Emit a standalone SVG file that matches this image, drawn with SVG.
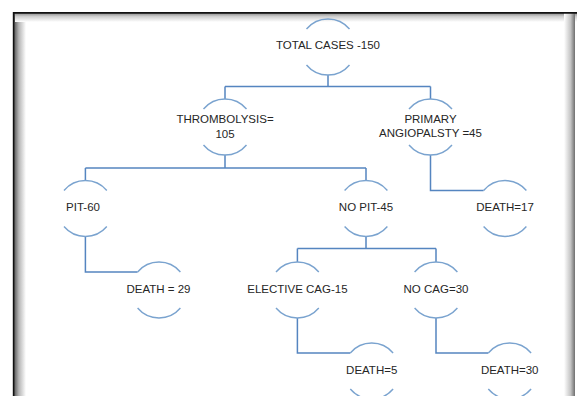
<svg xmlns="http://www.w3.org/2000/svg" width="577" height="396" viewBox="0 0 577 396">
<defs>
<linearGradient id="gl" x1="0" y1="0" x2="1" y2="0"><stop offset="0" stop-color="#6a6a6a"/><stop offset="0.35" stop-color="#b5b5b5"/><stop offset="1" stop-color="#ffffff"/></linearGradient>
<linearGradient id="gt" x1="0" y1="0" x2="0" y2="1"><stop offset="0" stop-color="#8a8a8a"/><stop offset="0.4" stop-color="#cfcfcf"/><stop offset="1" stop-color="#ffffff"/></linearGradient>
<linearGradient id="gr" x1="0" y1="0" x2="1" y2="0"><stop offset="0" stop-color="#ffffff"/><stop offset="0.6" stop-color="#c4c4c4"/><stop offset="1" stop-color="#6f6f6f"/></linearGradient>
</defs>
<style>
.arc{fill:none;stroke:#7aa3cf;stroke-width:1.4}
.con{fill:none;stroke:#5585c0;stroke-width:1.5}
text{font-family:"Liberation Sans",Arial,sans-serif;font-size:11.5px;fill:#262626;text-anchor:middle;dominant-baseline:central}
</style>
<rect width="577" height="396" fill="#ffffff"/>
<g id="frame">
<rect x="15" y="13" width="11" height="383" fill="url(#gl)"/>
<rect x="15" y="13" width="562" height="9" fill="url(#gt)"/>
<rect x="564" y="13" width="11" height="383" fill="url(#gr)"/>
<line x1="13.8" y1="12" x2="13.8" y2="396" stroke="#111" stroke-width="2"/>
<line x1="13" y1="12.8" x2="577" y2="12.8" stroke="#111" stroke-width="1.8"/>
</g>
<g id="connectors">
<path class="con" d="M328 75V86.5M225 86.5H430.5M225 86.5V99M430.5 86.5V99"/>
<path class="con" d="M225 155V168M85.4 168H366M85.4 168V180.5M366 168V180.5"/>
<path class="con" d="M430.5 155V190.5H483.6"/>
<path class="con" d="M85.4 236.5V272H137.6"/>
<path class="con" d="M366 236.5V248.5M297.4 248.5H436M297.4 248.5V262M436 248.5V262"/>
<path class="con" d="M297.4 318V353H350.3"/>
<path class="con" d="M436 318V353H488.3"/>
</g>
<g id="n-total">
<path class="arc" d="M306.5 29A28 28 0 0 1 349.5 29M306.5 65A28 28 0 0 0 349.5 65"/>
<text x="328" y="45">TOTAL CASES -150</text>
</g>
<g id="n-thrombolysis">
<path class="arc" d="M203.5 109A28 28 0 0 1 246.5 109M203.5 145A28 28 0 0 0 246.5 145"/>
<text x="225" y="119">THROMBOLYSIS=</text>
<text x="225" y="134">105</text>
</g>
<g id="n-primary">
<path class="arc" d="M409 109A28 28 0 0 1 452 109M409 145A28 28 0 0 0 452 145"/>
<text x="430.5" y="119">PRIMARY</text>
<text x="430.5" y="133">ANGIOPALSTY =45</text>
</g>
<g id="n-pit">
<path class="arc" d="M64 190.5A28 28 0 0 1 106.8 190.5M64 226.5A28 28 0 0 0 106.8 226.5"/>
<text x="83" y="207">PIT-60</text>
</g>
<g id="n-nopit">
<path class="arc" d="M344.6 190.5A28 28 0 0 1 387.4 190.5M344.6 226.5A28 28 0 0 0 387.4 226.5"/>
<text x="366" y="207">NO PIT-45</text>
</g>
<g id="n-death17">
<path class="arc" d="M483.6 190.5A28 28 0 0 1 526.4 190.5M483.6 226.5A28 28 0 0 0 526.4 226.5"/>
<text x="505" y="207">DEATH=17</text>
</g>
<g id="n-death29">
<path class="arc" d="M137.6 272A28 28 0 0 1 180.4 272M137.6 308A28 28 0 0 0 180.4 308"/>
<text x="158.5" y="289">DEATH = 29</text>
</g>
<g id="n-elective">
<path class="arc" d="M276 272A28 28 0 0 1 318.8 272M276 308A28 28 0 0 0 318.8 308"/>
<text x="297.4" y="289">ELECTIVE CAG-15</text>
</g>
<g id="n-nocag">
<path class="arc" d="M414.6 272A28 28 0 0 1 457.4 272M414.6 308A28 28 0 0 0 457.4 308"/>
<text x="436" y="289">NO CAG=30</text>
</g>
<g id="n-death5">
<path class="arc" d="M350.3 353A28 28 0 0 1 393.1 353M350.3 389A28 28 0 0 0 393.1 389"/>
<text x="371.7" y="370">DEATH=5</text>
</g>
<g id="n-death30">
<path class="arc" d="M488.3 353A28 28 0 0 1 531.1 353M488.3 389A28 28 0 0 0 531.1 389"/>
<text x="509.7" y="370">DEATH=30</text>
</g>
</svg>
